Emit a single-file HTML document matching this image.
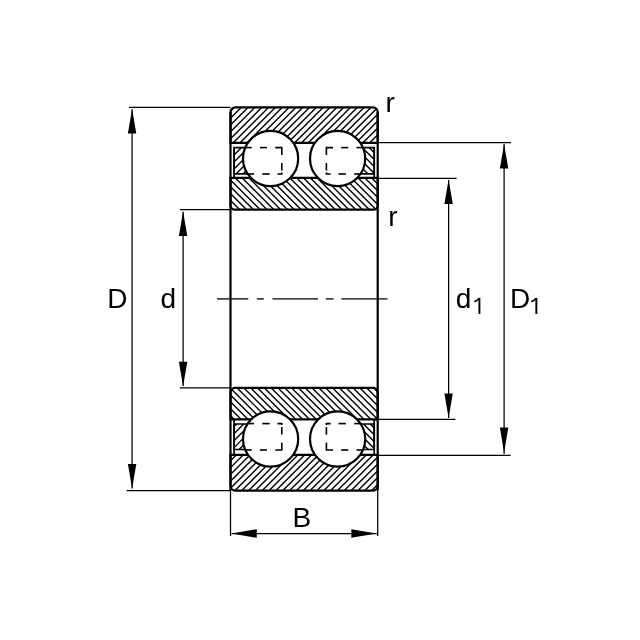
<!DOCTYPE html><html><head><meta charset="utf-8"><style>html,body{margin:0;padding:0;background:#fff;width:640px;height:640px;overflow:hidden}svg{display:block}text{font-family:"Liberation Sans",sans-serif}svg{will-change:transform}</style></head><body><svg width="640" height="640" viewBox="0 0 640 640"><defs><clipPath id="c1"><path d="M235.3 107.3 L372.9 107.3 A4.8 4.8 0 0 1 377.7 112.1 L377.7 142.8 L230.5 142.8 L230.5 112.1 A4.8 4.8 0 0 1 235.3 107.3 Z"/></clipPath><clipPath id="c2"><path d="M230.5 177.9 L377.7 177.9 L377.7 205.2 A4.5 4.5 0 0 1 373.2 209.7 L235 209.7 A4.5 4.5 0 0 1 230.5 205.2 L230.5 177.9 Z"/></clipPath><clipPath id="c3"><path d="M235 387.9 L373.2 387.9 A4.5 4.5 0 0 1 377.7 392.4 L377.7 419.3 L230.5 419.3 L230.5 392.4 A4.5 4.5 0 0 1 235 387.9 Z"/></clipPath><clipPath id="c4"><path d="M230.5 454.8 L377.7 454.8 L377.7 485.8 A4.8 4.8 0 0 1 372.9 490.6 L235.3 490.6 A4.8 4.8 0 0 1 230.5 485.8 L230.5 454.8 Z"/></clipPath><clipPath id="c5"><path d="M234.1 147.6 L262 147.6 L262 173.9 L234.1 173.9 L234.1 147.6 Z"/></clipPath><clipPath id="c6"><path d="M346.2 147.6 L374.2 147.6 L374.2 173.9 L346.2 173.9 L346.2 147.6 Z"/></clipPath><clipPath id="c7"><path d="M234.1 424 L262 424 L262 449.5 L234.1 449.5 L234.1 424 Z"/></clipPath><clipPath id="c8"><path d="M346.2 424 L374.2 424 L374.2 449.5 L346.2 449.5 L346.2 424 Z"/></clipPath></defs><rect width="640" height="640" fill="#fff"/><g stroke="#000" fill="none" font-family="Liberation Sans, sans-serif" font-size="28"><path clip-path="url(#c1)" d="M190.25 144.8 L229.75 105.3 M197.07 144.8 L236.57 105.3 M203.9 144.8 L243.4 105.3 M210.72 144.8 L250.22 105.3 M217.55 144.8 L257.05 105.3 M224.38 144.8 L263.88 105.3 M231.2 144.8 L270.7 105.3 M238.02 144.8 L277.52 105.3 M244.85 144.8 L284.35 105.3 M251.67 144.8 L291.17 105.3 M258.5 144.8 L298 105.3 M265.32 144.8 L304.82 105.3 M272.15 144.8 L311.65 105.3 M278.97 144.8 L318.47 105.3 M285.8 144.8 L325.3 105.3 M292.62 144.8 L332.12 105.3 M299.45 144.8 L338.95 105.3 M306.27 144.8 L345.77 105.3 M313.1 144.8 L352.6 105.3 M319.93 144.8 L359.43 105.3 M326.75 144.8 L366.25 105.3 M333.57 144.8 L373.07 105.3 M340.4 144.8 L379.9 105.3 M347.22 144.8 L386.72 105.3 M354.05 144.8 L393.55 105.3 M360.87 144.8 L400.37 105.3 M367.7 144.8 L407.2 105.3 M374.53 144.8 L414.03 105.3 M381.35 144.8 L420.85 105.3" stroke="#000" stroke-width="1.4" fill="none"/>
<path d="M235.3 107.3 L372.9 107.3 A4.8 4.8 0 0 1 377.7 112.1 L377.7 142.8 L230.5 142.8 L230.5 112.1 A4.8 4.8 0 0 1 235.3 107.3 Z" fill="none" stroke-width="2.2"/>
<path clip-path="url(#c2)" d="M376.5 175.9 L412.3 211.7 M369.68 175.9 L405.48 211.7 M362.86 175.9 L398.66 211.7 M356.04 175.9 L391.84 211.7 M349.22 175.9 L385.02 211.7 M342.4 175.9 L378.2 211.7 M335.58 175.9 L371.38 211.7 M328.76 175.9 L364.56 211.7 M321.94 175.9 L357.74 211.7 M315.12 175.9 L350.92 211.7 M308.3 175.9 L344.1 211.7 M301.48 175.9 L337.28 211.7 M294.66 175.9 L330.46 211.7 M287.84 175.9 L323.64 211.7 M281.02 175.9 L316.82 211.7 M274.2 175.9 L310 211.7 M267.38 175.9 L303.18 211.7 M260.56 175.9 L296.36 211.7 M253.74 175.9 L289.54 211.7 M246.92 175.9 L282.72 211.7 M240.1 175.9 L275.9 211.7 M233.28 175.9 L269.08 211.7 M226.46 175.9 L262.26 211.7 M219.64 175.9 L255.44 211.7 M212.82 175.9 L248.62 211.7 M206 175.9 L241.8 211.7 M199.18 175.9 L234.98 211.7 M192.36 175.9 L228.16 211.7" stroke="#000" stroke-width="1.4" fill="none"/>
<path d="M230.5 177.9 L377.7 177.9 L377.7 205.2 A4.5 4.5 0 0 1 373.2 209.7 L235 209.7 A4.5 4.5 0 0 1 230.5 205.2 L230.5 177.9 Z" fill="none" stroke-width="2.2"/>
<path clip-path="url(#c3)" d="M378.35 385.9 L413.75 421.3 M371.52 385.9 L406.93 421.3 M364.7 385.9 L400.1 421.3 M357.88 385.9 L393.28 421.3 M351.05 385.9 L386.45 421.3 M344.23 385.9 L379.62 421.3 M337.4 385.9 L372.8 421.3 M330.57 385.9 L365.98 421.3 M323.75 385.9 L359.15 421.3 M316.93 385.9 L352.33 421.3 M310.1 385.9 L345.5 421.3 M303.27 385.9 L338.68 421.3 M296.45 385.9 L331.85 421.3 M289.62 385.9 L325.03 421.3 M282.8 385.9 L318.2 421.3 M275.98 385.9 L311.38 421.3 M269.15 385.9 L304.55 421.3 M262.32 385.9 L297.73 421.3 M255.5 385.9 L290.9 421.3 M248.67 385.9 L284.08 421.3 M241.85 385.9 L277.25 421.3 M235.02 385.9 L270.43 421.3 M228.2 385.9 L263.6 421.3 M221.38 385.9 L256.78 421.3 M214.55 385.9 L249.95 421.3 M207.72 385.9 L243.13 421.3 M200.9 385.9 L236.3 421.3 M194.07 385.9 L229.48 421.3" stroke="#000" stroke-width="1.4" fill="none"/>
<path d="M235 387.9 L373.2 387.9 A4.5 4.5 0 0 1 377.7 392.4 L377.7 419.3 L230.5 419.3 L230.5 392.4 A4.5 4.5 0 0 1 235 387.9 Z" fill="none" stroke-width="2.2"/>
<path clip-path="url(#c4)" d="M191.86 492.6 L231.66 452.8 M198.69 492.6 L238.49 452.8 M205.53 492.6 L245.33 452.8 M212.36 492.6 L252.16 452.8 M219.2 492.6 L259 452.8 M226.04 492.6 L265.84 452.8 M232.87 492.6 L272.67 452.8 M239.71 492.6 L279.51 452.8 M246.54 492.6 L286.34 452.8 M253.38 492.6 L293.18 452.8 M260.22 492.6 L300.02 452.8 M267.05 492.6 L306.85 452.8 M273.89 492.6 L313.69 452.8 M280.72 492.6 L320.52 452.8 M287.56 492.6 L327.36 452.8 M294.4 492.6 L334.2 452.8 M301.23 492.6 L341.03 452.8 M308.07 492.6 L347.87 452.8 M314.9 492.6 L354.7 452.8 M321.74 492.6 L361.54 452.8 M328.58 492.6 L368.38 452.8 M335.41 492.6 L375.21 452.8 M342.25 492.6 L382.05 452.8 M349.08 492.6 L388.88 452.8 M355.92 492.6 L395.72 452.8 M362.76 492.6 L402.56 452.8 M369.59 492.6 L409.39 452.8 M376.43 492.6 L416.23 452.8" stroke="#000" stroke-width="1.4" fill="none"/>
<path d="M230.5 454.8 L377.7 454.8 L377.7 485.8 A4.8 4.8 0 0 1 372.9 490.6 L235.3 490.6 A4.8 4.8 0 0 1 230.5 485.8 L230.5 454.8 Z" fill="none" stroke-width="2.2"/>
<path clip-path="url(#c5)" d="M199.26 175.9 L229.56 145.6 M206.22 175.9 L236.53 145.6 M213.19 175.9 L243.49 145.6 M220.16 175.9 L250.46 145.6 M227.12 175.9 L257.42 145.6 M234.09 175.9 L264.38 145.6 M241.05 175.9 L271.35 145.6 M248.02 175.9 L278.32 145.6 M254.98 175.9 L285.28 145.6 M261.95 175.9 L292.25 145.6" stroke="#000" stroke-width="1.4" fill="none"/>
<path d="M234.1 147.6 L262 147.6 L262 173.9 L234.1 173.9 L234.1 147.6 Z" fill="none" stroke-width="1.7"/>
<line x1="234.1" y1="147.6" x2="234.1" y2="177.9" stroke-width="1.7"/>
<path clip-path="url(#c6)" d="M374.02 145.6 L404.32 175.9 M367.14 145.6 L397.44 175.9 M360.26 145.6 L390.56 175.9 M353.38 145.6 L383.68 175.9 M346.5 145.6 L376.8 175.9 M339.62 145.6 L369.92 175.9 M332.74 145.6 L363.04 175.9 M325.86 145.6 L356.16 175.9 M318.98 145.6 L349.28 175.9 M312.1 145.6 L342.4 175.9" stroke="#000" stroke-width="1.4" fill="none"/>
<path d="M346.2 147.6 L374.2 147.6 L374.2 173.9 L346.2 173.9 L346.2 147.6 Z" fill="none" stroke-width="1.7"/>
<line x1="374.2" y1="147.6" x2="374.2" y2="177.9" stroke-width="1.7"/>
<path clip-path="url(#c7)" d="M202.26 451.5 L231.76 422 M209.23 451.5 L238.73 422 M216.19 451.5 L245.69 422 M223.15 451.5 L252.65 422 M230.12 451.5 L259.62 422 M237.09 451.5 L266.59 422 M244.05 451.5 L273.55 422 M251.01 451.5 L280.51 422 M257.98 451.5 L287.48 422 M264.94 451.5 L294.44 422" stroke="#000" stroke-width="1.4" fill="none"/>
<path d="M234.1 424 L262 424 L262 449.5 L234.1 449.5 L234.1 424 Z" fill="none" stroke-width="1.7"/>
<line x1="234.1" y1="419.3" x2="234.1" y2="454.8" stroke-width="1.7"/>
<path clip-path="url(#c8)" d="M375.22 422 L404.72 451.5 M368.34 422 L397.84 451.5 M361.46 422 L390.96 451.5 M354.58 422 L384.08 451.5 M347.7 422 L377.2 451.5 M340.82 422 L370.32 451.5 M333.94 422 L363.44 451.5 M327.06 422 L356.56 451.5 M320.18 422 L349.68 451.5 M313.3 422 L342.8 451.5" stroke="#000" stroke-width="1.4" fill="none"/>
<path d="M346.2 424 L374.2 424 L374.2 449.5 L346.2 449.5 L346.2 424 Z" fill="none" stroke-width="1.7"/>
<line x1="374.2" y1="419.3" x2="374.2" y2="454.8" stroke-width="1.7"/>
<line x1="230.5" y1="112.1" x2="230.5" y2="490.6" stroke-width="2.2"/>
<line x1="377.7" y1="112.1" x2="377.7" y2="490.6" stroke-width="2.2"/>
<circle cx="270.6" cy="158.5" r="27.6" fill="#fff" stroke-width="2.2"/>
<circle cx="270.6" cy="439" r="27.6" fill="#fff" stroke-width="2.2"/>
<circle cx="337.6" cy="158.5" r="27.6" fill="#fff" stroke-width="2.2"/>
<circle cx="337.6" cy="439" r="27.6" fill="#fff" stroke-width="2.2"/>
<path d="M245.5 147.6 L251.7 147.6" fill="none" stroke-width="1.6"/>
<path d="M259.9 147.6 L267 147.6" fill="none" stroke-width="1.6"/>
<path d="M275.2 147.6 L281.8 147.6 L281.8 154.9" fill="none" stroke-width="1.6"/>
<path d="M281.8 163 L281.8 170.5" fill="none" stroke-width="1.6"/>
<path d="M281.8 172.6 L281.8 174 L277.5 174" fill="none" stroke-width="1.6"/>
<path d="M269.7 174 L262.3 174" fill="none" stroke-width="1.6"/>
<path d="M254 174 L248.2 174" fill="none" stroke-width="1.6"/>
<path d="M362.7 147.6 L356.5 147.6" fill="none" stroke-width="1.6"/>
<path d="M348.3 147.6 L341.2 147.6" fill="none" stroke-width="1.6"/>
<path d="M333 147.6 L326.4 147.6 L326.4 154.9" fill="none" stroke-width="1.6"/>
<path d="M326.4 163 L326.4 170.5" fill="none" stroke-width="1.6"/>
<path d="M326.4 172.6 L326.4 174 L330.7 174" fill="none" stroke-width="1.6"/>
<path d="M338.5 174 L345.9 174" fill="none" stroke-width="1.6"/>
<path d="M354.2 174 L360 174" fill="none" stroke-width="1.6"/>
<path d="M245.5 450 L251.7 450" fill="none" stroke-width="1.6"/>
<path d="M259.9 450 L267 450" fill="none" stroke-width="1.6"/>
<path d="M275.2 450 L281.8 450 L281.8 442.7" fill="none" stroke-width="1.6"/>
<path d="M281.8 434.6 L281.8 427.1" fill="none" stroke-width="1.6"/>
<path d="M281.8 425 L281.8 423.6 L277.5 423.6" fill="none" stroke-width="1.6"/>
<path d="M269.7 423.6 L262.3 423.6" fill="none" stroke-width="1.6"/>
<path d="M254 423.6 L248.2 423.6" fill="none" stroke-width="1.6"/>
<path d="M362.7 450 L356.5 450" fill="none" stroke-width="1.6"/>
<path d="M348.3 450 L341.2 450" fill="none" stroke-width="1.6"/>
<path d="M333 450 L326.4 450 L326.4 442.7" fill="none" stroke-width="1.6"/>
<path d="M326.4 434.6 L326.4 427.1" fill="none" stroke-width="1.6"/>
<path d="M326.4 425 L326.4 423.6 L330.7 423.6" fill="none" stroke-width="1.6"/>
<path d="M338.5 423.6 L345.9 423.6" fill="none" stroke-width="1.6"/>
<path d="M354.2 423.6 L360 423.6" fill="none" stroke-width="1.6"/>
<line x1="217" y1="298.9" x2="248.3" y2="298.9" stroke-width="1.3"/>
<line x1="256.9" y1="298.9" x2="263.9" y2="298.9" stroke-width="1.3"/>
<line x1="272.5" y1="298.9" x2="318" y2="298.9" stroke-width="1.3"/>
<line x1="325.8" y1="298.9" x2="333.6" y2="298.9" stroke-width="1.3"/>
<line x1="341.4" y1="298.9" x2="387.5" y2="298.9" stroke-width="1.3"/>
<line x1="129" y1="107.3" x2="230.5" y2="107.3" stroke-width="1.25"/>
<line x1="126.6" y1="490.6" x2="230.5" y2="490.6" stroke-width="1.25"/>
<line x1="132.1" y1="109.3" x2="132.1" y2="488.6" stroke-width="1.25"/>
<path d="M132.1 109 L136.3 133.5 L127.9 133.5 Z" fill="#000" stroke="none"/>
<path d="M132.1 488.6 L127.9 464.1 L136.3 464.1 Z" fill="#000" stroke="none"/>
<line x1="180" y1="209.7" x2="230.5" y2="209.7" stroke-width="1.25"/>
<line x1="180" y1="387.9" x2="230.5" y2="387.9" stroke-width="1.25"/>
<line x1="183.1" y1="211.7" x2="183.1" y2="385.9" stroke-width="1.25"/>
<path d="M183.1 211.5 L187.3 236 L178.9 236 Z" fill="#000" stroke="none"/>
<path d="M183.1 386.2 L178.9 361.7 L187.3 361.7 Z" fill="#000" stroke="none"/>
<line x1="377.7" y1="178.4" x2="456.6" y2="178.4" stroke-width="1.25"/>
<line x1="377.7" y1="419.4" x2="455.5" y2="419.4" stroke-width="1.25"/>
<line x1="448.6" y1="180" x2="448.6" y2="418" stroke-width="1.25"/>
<path d="M448.6 179.6 L452.8 204.1 L444.4 204.1 Z" fill="#000" stroke="none"/>
<path d="M448.6 418 L444.4 393.5 L452.8 393.5 Z" fill="#000" stroke="none"/>
<line x1="377.7" y1="142.5" x2="511" y2="142.5" stroke-width="1.25"/>
<line x1="377.7" y1="455.3" x2="510.6" y2="455.3" stroke-width="1.25"/>
<line x1="504.1" y1="144" x2="504.1" y2="454" stroke-width="1.25"/>
<path d="M504.1 143.9 L508.3 168.4 L499.9 168.4 Z" fill="#000" stroke="none"/>
<path d="M504.1 452.8 L499.9 427.6 L508.3 427.6 Z" fill="#000" stroke="none"/>
<line x1="230.5" y1="490.6" x2="230.5" y2="536" stroke-width="1.25"/>
<line x1="377.7" y1="490.6" x2="377.7" y2="536" stroke-width="1.25"/>
<line x1="231.5" y1="533.5" x2="376.7" y2="533.5" stroke-width="1.25"/>
<path d="M231.5 533.5 L256.8 529.2 L256.8 537.8 Z" fill="#000" stroke="none"/>
<path d="M376.6 533.5 L351.3 537.8 L351.3 529.2 Z" fill="#000" stroke="none"/>
<text fill="#000" stroke="none" x="107.3" y="308.2">D</text>
<text fill="#000" stroke="none" x="160.6" y="308.2">d</text>
<text fill="#000" stroke="none" x="455.8" y="308.2">d</text>
<text fill="#000" stroke="none" x="510" y="308.2">D</text>
<text fill="#000" stroke="none" x="292.4" y="527.1">B</text>
<text fill="#000" stroke="none" x="385.6" y="111.8">r</text>
<text fill="#000" stroke="none" x="388.3" y="225.6">r</text>
<path d="M479.4 297.9 L479.4 313.9" stroke-width="1.95" fill="none"/>
<path d="M474.3 301.6 Q477.2 300.9 479.1 298.2" stroke-width="1.6" fill="none"/>
<path d="M536.35 297.9 L536.35 313.9" stroke-width="1.95" fill="none"/>
<path d="M531.25 301.6 Q534.15 300.9 536.05 298.2" stroke-width="1.6" fill="none"/></g></svg></body></html>
